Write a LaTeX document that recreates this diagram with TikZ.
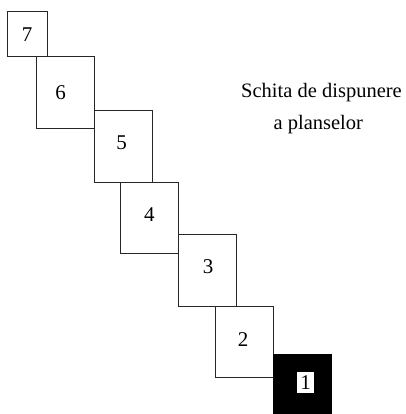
\documentclass[tikz,border=0pt]{standalone}
\usepackage{fontspec}
\setmainfont{Liberation Serif}
\begin{document}
\begin{tikzpicture}[x=1pt,y=1pt,
  sheet/.style={draw=black!85,line width=0.9pt,fill=white},
  num/.style={anchor=base,inner sep=0pt,font=\fontsize{21}{25}\selectfont},
  txt/.style={anchor=base,inner sep=0pt,font=\fontsize{20.5}{25}\selectfont}]
\useasboundingbox (0,0) rectangle (405,414);
\path[sheet] (7,358) rectangle (47,403);
\path[sheet] (36,286) rectangle (94,358);
\path[sheet] (94,232) rectangle (152,304);
\path[sheet] (120,161) rectangle (178,232);
\path[sheet] (178,108) rectangle (236,180);
\path[sheet] (215,37) rectangle (273,108);
\fill[black] (273,0) rectangle (332,60);
\node[num] (n7) at (27,372.3) {7};
\node[num] (n6) at (60.5,314) {6};
\node[num] (n5) at (121.7,264) {5};
\node[num] (n4) at (149.3,192.3) {4};
\node[num] (n3) at (208,140) {3};
\node[num] (n2) at (243,67) {2};
\node[fill=white,inner sep=0pt,minimum width=17pt,minimum height=21.6pt,font=\fontsize{21}{25}\selectfont] (n1) at (305.7,31.5) {1};
\node[txt] (t1) at (321.5,316.5) {Schita de dispunere};
\node[txt] (t2) at (318.3,284.5) {a planselor};
\end{tikzpicture}
\end{document}
